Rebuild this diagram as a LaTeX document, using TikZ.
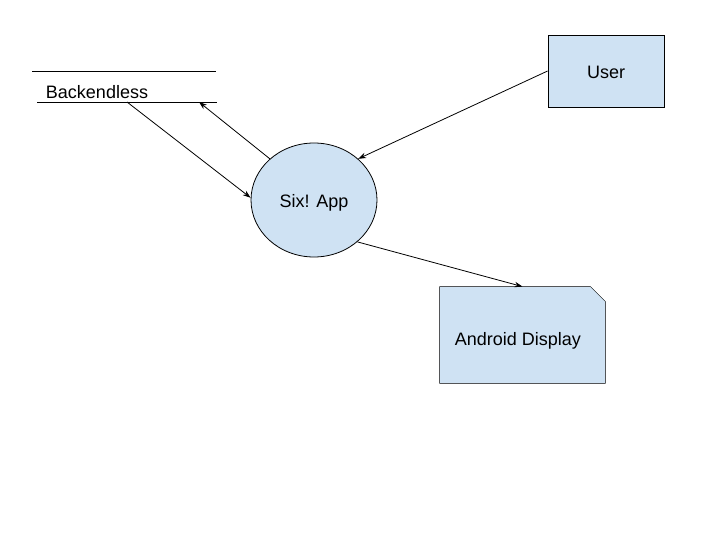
\documentclass[tikz,border=0pt]{standalone}
\usepackage{fontspec}
\setmainfont{Liberation Sans}
\usetikzlibrary{arrows.meta, shapes.geometric, backgrounds, positioning}
\definecolor{procblue}{RGB}{207,226,243}

\begin{document}
\begin{tikzpicture}[x=1pt, y=-1pt, line width=0.8pt,
    font=\fontsize{18}{22}\selectfont,
    flow/.style={-{Stealth[length=8pt,width=5.5pt]}},
    entity/.style={draw, fill=procblue, inner sep=0pt}]
    \useasboundingbox (0,0) rectangle (720,540);
    % data store
    \draw (32,71) -- (216,71);
    \draw (37,102) -- (217,102);
    \node (store) at (97,92) {Backendless};
    \coordinate (storeout) at (127,102);
    \coordinate (storein) at (199,102);
    % process and entities
    \node[entity, ellipse, minimum width=126pt, minimum height=114pt,
        text height=19pt, text depth=3.8pt] (app) at (314,200) {Six! App};
    \node[entity, minimum width=116pt, minimum height=72pt,
        text height=15pt, text depth=0pt] (user) at (606,71) {User};
    \node[minimum width=165pt, minimum height=96pt, inner sep=0pt,
        text height=25pt, text depth=4pt] (display) at (522.5,335) {\hspace*{-9pt}Android Display};
    \begin{scope}[on background layer]
    \draw[fill=procblue] (display.south west) -- (display.north west)
        -- ([xshift=-15pt]display.north east) -- ([yshift=-15pt]display.north east)
        -- (display.south east) -- cycle;
    \end{scope}
    % flows
    \draw[flow] (storeout) -- (app.178);
    \draw[flow] (app.137) -- (storein);
    \draw[flow] (user.west) -- (app.43);
    \draw[flow] (app.-44) -- (display.north);
\end{tikzpicture}
\end{document}
